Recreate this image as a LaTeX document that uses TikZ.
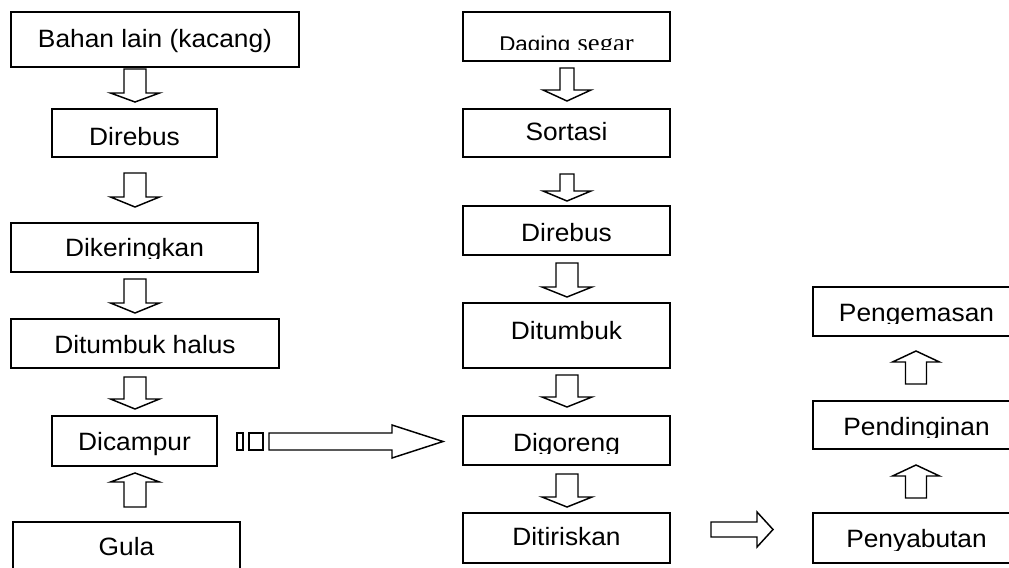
\documentclass[tikz,border=0pt]{standalone}
\usepackage{fontspec}
\setmainfont{Liberation Sans}[FakeStretch=1.05]
\newfontfamily\serifseg{Liberation Serif}[FakeStretch=1.05]
\usetikzlibrary{calc}
\newdimen\pxu \pxu=0.75pt
\newcommand\bl[2]{\raisebox{-#1\pxu}[0pt][0pt]{#2}}
% vertical block arrow: x, from, to, gap1, gap2, s(+1 up/-1 down), shaft half, head half, head length
\newcommand\varrow[9]{%
  \draw[blk] let \p1=(#2), \p2=(#3),
    \n1={\y1+(#6)*(#4)*0.75pt},
    \n2={\y2-(#6)*(#5)*0.75pt},
    \n3={\y2-(#6)*(#5+#9)*0.75pt} in
    ({(#1-#7)*0.75pt},\n1) -- ({(#1+#7)*0.75pt},\n1) -- ({(#1+#7)*0.75pt},\n3) --
    ({(#1+#8)*0.75pt},\n3) -- ({#1*0.75pt},\n2) -- ({(#1-#8)*0.75pt},\n3) --
    ({(#1-#7)*0.75pt},\n3) -- cycle;}
% horizontal block arrow: y, from, to, gap1, gap2, shaft half, head half, head length
\newcommand\harrow[8]{%
  \draw[blk] let \p1=(#2), \p2=(#3),
    \n1={\x1+(#4)*0.75pt},
    \n2={\x2-(#5)*0.75pt},
    \n3={\x2-(#5+#8)*0.75pt} in
    (\n1,{-(#1-#6)*0.75pt}) -- (\n3,{-(#1-#6)*0.75pt}) -- (\n3,{-(#1-#7)*0.75pt}) --
    (\n2,{-#1*0.75pt}) -- (\n3,{-(#1+#7)*0.75pt}) -- (\n3,{-(#1+#6)*0.75pt}) --
    (\n1,{-(#1+#6)*0.75pt}) -- cycle;}
% white mask hiding the lower strip of a box interior (text cut off)
\newcommand\cut[2]{%
  \fill[mask] ($(#1.south west)+(1.4,-1.4)$) rectangle ($(#1.south east)+(-1.4,-#2)$);}
\begin{document}
\begin{tikzpicture}[
  x=0.75pt, y=-0.75pt,
  box/.style 2 args={draw, line width=1.2pt, rectangle, inner sep=0pt, outer sep=0pt,
    minimum width=#1*0.75pt, minimum height=#2*0.75pt,
    font=\fontsize{18.8pt}{21pt}\selectfont},
  blk/.style={draw, line width=1.1pt, fill=white, line join=miter},
  mask/.style={fill=white, draw=none},
]
\useasboundingbox (0,0) rectangle (1009,567);
\clip (0,0) rectangle (1009,567);
\fill[white] (0,0) rectangle (1009,567);

% left column
\node[box={288}{55}] (bahan) at (155,39.5) {\bl{8.5}{Bahan lain (kacang)}};
\node[box={165}{48}] (direbusA) at (134.5,133) {\bl{12}{Direbus}};
\node[box={247}{49}] (dikeringkan) at (134.5,247.5) {\bl{8.5}{Dikeringkan}};
\node[box={268}{49}] (ditumbukhalus) at (145,343.5) {\bl{10}{Ditumbuk halus}};
\node[box={165}{50}] (dicampur) at (134.5,441) {\bl{9.5}{Dicampur}};
\node[box={227}{50}] (gula) at (126.5,547) {\bl{8.5}{Gula}};

% middle column
\node[box={207}{49}] (daging) at (566.5,36.5) {\bl{15.5}{{\fontsize{16pt}{18pt}\selectfont Daging} {\serifseg\fontsize{19pt}{21pt}\selectfont segar}}};
\node[box={207}{48}] (sortasi) at (566.5,133) {\bl{7.5}{Sortasi}};
\node[box={207}{49}] (direbusB) at (566.5,230.5) {\bl{11}{Direbus}};
\node[box={207}{65}] (ditumbuk) at (566.5,335.5) {\bl{4}{Ditumbuk}};
\node[box={207}{49}] (digoreng) at (566.5,440.5) {\bl{11}{Digoreng}};
\node[box={207}{50}] (ditiriskan) at (566.5,538) {\bl{7.5}{Ditiriskan}};

% right column
\node[box={207}{49}] (pengemasan) at (916.5,311.5) {\bl{9.5}{Pengemasan}};
\node[box={207}{48}] (pendinginan) at (916.5,425) {\bl{10}{Pendinginan}};
\node[box={207}{50}] (penyabutan) at (916.5,538) {\bl{9}{Penyabutan}};

% text cut off at the bottom, as in the reference
\cut{daging}{11}
\cut{dikeringkan}{13}
\cut{digoreng}{11}
\cut{pengemasan}{12.5}
\cut{pendinginan}{11}
\cut{penyabutan}{12.5}

% left column arrows
\varrow{135}{bahan.south}{direbusA.north}{2}{7}{-1}{11}{24.5}{9}
\varrow{135}{direbusA.south}{dikeringkan.north}{16}{16}{-1}{11}{24.5}{10}
\varrow{135}{dikeringkan.south}{ditumbukhalus.north}{7}{6}{-1}{11}{24.5}{10}
\varrow{135}{ditumbukhalus.south}{dicampur.north}{9}{7}{-1}{11}{24.5}{10}
\varrow{135}{gula.north}{dicampur.south}{15}{7}{1}{11}{24.5}{9}

% middle column arrows
\varrow{567}{daging.south}{sortasi.north}{7}{8}{-1}{7}{24}{11}
\varrow{567}{sortasi.south}{direbusB.north}{17}{5}{-1}{7}{24}{10}
\varrow{567}{direbusB.south}{ditumbuk.north}{8}{6}{-1}{11}{25}{10}
\varrow{567}{ditumbuk.south}{digoreng.north}{7}{9}{-1}{11}{25}{10}
\varrow{567}{digoreng.south}{ditiriskan.north}{9}{6}{-1}{11}{25}{10}

% right column arrows
\varrow{916}{penyabutan.north}{pendinginan.south}{15}{16}{1}{10.5}{23.5}{11}
\varrow{916}{pendinginan.north}{pengemasan.south}{17}{15}{1}{10.5}{23.5}{11}

% horizontal arrows
\draw[blk] let \p1=(dicampur.east) in
  ({\x1+20*0.75pt},{-433*0.75pt}) rectangle ({\x1+26*0.75pt},{-450*0.75pt})
  ({\x1+32*0.75pt},{-433*0.75pt}) rectangle ({\x1+46*0.75pt},{-450*0.75pt});
\harrow{441.5}{dicampur.east}{digoreng.west}{52}{20}{8.5}{16.5}{51}
\harrow{529.5}{ditiriskan.east}{penyabutan.west}{41}{40}{7.5}{17.5}{16}
\end{tikzpicture}
\end{document}
